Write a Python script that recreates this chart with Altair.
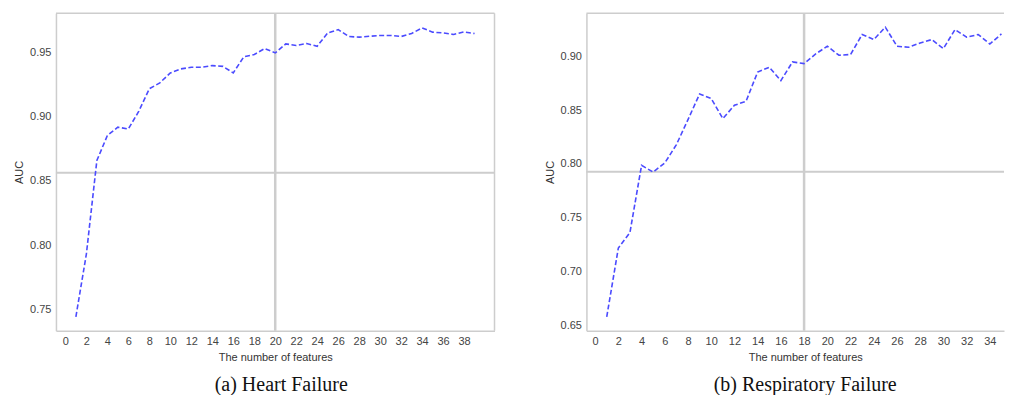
import altair as alt
import pandas as pd

# Heart failure AUC by number of features
hf_n = list(range(1, 40))
hf_auc = [0.744, 0.793, 0.866, 0.8855, 0.892, 0.8906, 0.9045, 0.922, 0.9266, 0.9344,
          0.9375, 0.9388, 0.9388, 0.9401, 0.9395, 0.9344, 0.9469, 0.9487, 0.9534, 0.950,
          0.957, 0.9558, 0.9573, 0.9552, 0.9656, 0.9682, 0.9628, 0.9623, 0.963, 0.9636,
          0.9636, 0.9628, 0.9652, 0.9695, 0.9662, 0.9656, 0.9644, 0.9664, 0.9651]

# Respiratory failure AUC by number of features
rf_n = list(range(1, 36))
rf_auc = [0.658, 0.722, 0.7364, 0.7987, 0.7925, 0.8009, 0.8179, 0.8412, 0.865, 0.8607,
          0.8421, 0.8545, 0.8582, 0.8854, 0.8898, 0.8774, 0.8947, 0.8932, 0.9022, 0.9093,
          0.901, 0.9016, 0.9202, 0.9155, 0.927, 0.9093, 0.9084, 0.9124, 0.9155, 0.9071,
          0.9248, 0.9177, 0.9202, 0.9114, 0.9207]

ref_x = [20, 18]
ref_y = [0.8565, 0.7928]

hf_xticks = list(range(0, 40, 2))
rf_xticks = list(range(0, 36, 2))
hf_yticks = [0.75, 0.80, 0.85, 0.90, 0.95]
rf_yticks = [0.65, 0.70, 0.75, 0.80, 0.85, 0.90]

captions = ["(a) Heart Failure", "(b) Respiratory Failure"]
x_title = "The number of features"
y_title = "AUC"

LINE = "#4b4bff"
GRID = "#cdcdcd"
H = 318


def panel(n, auc, rx, ry, xdom, ydom, xticks, yticks, w, caption, dx, title_x=None, right_border=True):
    df = pd.DataFrame({"n": n, "auc": auc})
    xax = dict(title=x_title, values=xticks, format="d", labelOverlap=False)
    if title_x is not None:
        xax["titleX"] = title_x
    xs = alt.Scale(domain=xdom, nice=False, zero=False)
    ys = alt.Scale(domain=ydom, nice=False, zero=False)
    xa = alt.Axis(**xax)
    ya = alt.Axis(title=y_title, values=yticks, format=".2f", labelOverlap=False)
    line = alt.Chart(df).mark_line(color=LINE, strokeWidth=1.6, strokeDash=[5, 2.5]).encode(
        x=alt.X("n:Q", scale=xs, axis=xa), y=alt.Y("auc:Q", scale=ys, axis=ya))
    vr = alt.Chart(pd.DataFrame({"n": [rx]})).mark_rule(color=GRID, strokeWidth=2.5).encode(
        x=alt.X("n:Q", scale=xs, axis=xa), y=alt.value(0), y2=alt.value(H))
    hr = alt.Chart(pd.DataFrame({"auc": [ry]})).mark_rule(color=GRID, strokeWidth=2).encode(
        y=alt.Y("auc:Q", scale=ys, axis=ya), x=alt.value(0), x2=alt.value(w))
    top = alt.Chart(pd.DataFrame({"k": [0]})).mark_rule(color=GRID, strokeWidth=1.5).encode(
        x=alt.value(0), x2=alt.value(w), y=alt.value(0))
    layers = [vr, hr, top]
    if right_border:
        layers.append(alt.Chart(pd.DataFrame({"k": [0]})).mark_rule(color=GRID, strokeWidth=1.5).encode(
            x=alt.value(w), y=alt.value(0), y2=alt.value(H)))
    layers.append(line)
    return alt.layer(*layers).properties(
        width=w, height=H,
        view=alt.ViewBackground(strokeOpacity=0),
        title=alt.TitleParams(caption, orient="bottom", anchor="middle", frame="group",
                              font="Liberation Serif", fontSize=20, fontWeight="normal",
                              color="#111", offset=12, dx=dx),
    )


left = panel(hf_n, hf_auc, ref_x[0], ref_y[0], [-0.9, 40.9], [0.733, 0.981],
             hf_xticks, hf_yticks, 439, captions[0], 6)
right = panel(rf_n, rf_auc, ref_x[1], ref_y[1], [-0.75, 35.22], [0.645, 0.940],
              rf_xticks, rf_yticks, 418, captions[1], 10, title_x=219, right_border=False)

chart = alt.hconcat(left, right, spacing=48).properties(
    padding={"left": 5, "top": 3, "right": 0, "bottom": 0}
).configure_axis(
    domain=True, domainColor=GRID, domainWidth=1.5, ticks=False, grid=False,
    labelFont="Liberation Sans", labelFontSize=11, labelColor="#444", labelPadding=5,
    labelOverlap=False,
    titleFont="Liberation Sans", titleFontSize=11, titleColor="#333", titleFontWeight="normal",
    titlePadding=5,
).configure_view(strokeOpacity=0)

chart.save("out.html", embed_options={"renderer": "svg", "actions": False})
